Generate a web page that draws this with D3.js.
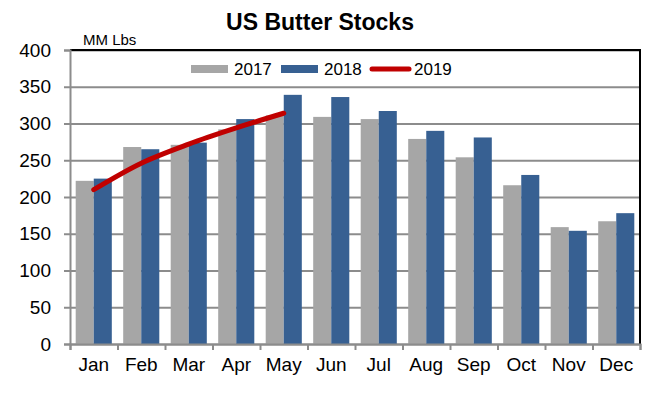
<!DOCTYPE html>
<html>
<head>
<meta charset="utf-8">
<script src="https://cdn.jsdelivr.net/npm/d3@7"></script>
<style>
  body { margin: 0; background: #fff; }
  svg text { font-family: "Liberation Sans", Arial, sans-serif; fill: #000; }
</style>
</head>
<body>
<svg width="658" height="396"></svg>
<script>
const months = ['Jan', 'Feb', 'Mar', 'Apr', 'May', 'Jun', 'Jul', 'Aug', 'Sep', 'Oct', 'Nov', 'Dec'];
const stocks2017 = [222, 268, 271, 292, 311, 309, 306, 279, 254, 216, 159, 167];
const stocks2018 = [225, 265, 274, 306, 339, 336, 317, 290, 281, 230, 154, 178];
const stocks2019 = [210, 246, 272, 294, 314];
const yTicks = [0, 50, 100, 150, 200, 250, 300, 350, 400];
const seriesNames = ['2017', '2018', '2019'];

const colors = { '2017': '#a6a6a6', '2018': '#376092', '2019': '#c00000' };
const margin = { top: 50, right: 18, bottom: 52, left: 70 };
const width = 658 - margin.left - margin.right;
const height = 396 - margin.top - margin.bottom;

const svg = d3.select('svg');
const g = svg.append('g')
  .attr('transform', `translate(${margin.left}, ${margin.top})`);

const x0 = d3.scaleBand()
  .domain(months)
  .range([0, width])
  .paddingInner(0.24)
  .paddingOuter(0.12);
const x1 = d3.scaleBand()
  .domain(['2017', '2018'])
  .range([0, x0.bandwidth()]);
const y = d3.scaleLinear().domain([0, 400]).range([height, 0]);
const xEdges = d3.scaleLinear().domain([0, months.length]).range([0, width]);

// gridlines
g.append('g')
  .attr('class', 'grid')
  .call(d3.axisLeft(y).tickValues(yTicks).tickSize(-width).tickFormat(''))
  .call(s => s.select('.domain').remove())
  .call(s => s.selectAll('line').attr('stroke', '#8c8c8c').attr('stroke-width', 2));

// bars
const rows = months.map((m, i) => ({ month: m, values: [
  { key: '2017', value: stocks2017[i] },
  { key: '2018', value: stocks2018[i] }
] }));

g.append('g')
  .selectAll('g')
  .data(rows)
  .enter()
  .append('g')
  .attr('transform', d => `translate(${x0(d.month)}, 0)`)
  .selectAll('rect')
  .data(d => d.values)
  .enter()
  .append('rect')
  .attr('x', d => x1(d.key))
  .attr('y', d => y(d.value))
  .attr('width', x1.bandwidth())
  .attr('height', d => height - y(d.value))
  .attr('fill', d => colors[d.key]);

// frame top / right
g.append('line')
  .attr('x1', 0).attr('x2', width)
  .attr('y1', y(400)).attr('y2', y(400))
  .attr('stroke', '#000').attr('stroke-width', 2);
g.append('line')
  .attr('x1', width).attr('x2', width)
  .attr('y1', y(400) - 1).attr('y2', height)
  .attr('stroke', '#000').attr('stroke-width', 2);

// y axis
g.append('g')
  .call(d3.axisLeft(y).tickValues(yTicks).tickSize(6).tickPadding(13))
  .call(s => s.select('.domain').attr('stroke', '#8c8c8c').attr('stroke-width', 2))
  .call(s => s.selectAll('line').attr('stroke', '#8c8c8c').attr('stroke-width', 2))
  .call(s => s.selectAll('text').attr('font-size', 19).attr('font-family', null));

// x axis: ticks at category edges, labels at centres
g.append('g')
  .attr('transform', `translate(0, ${height})`)
  .call(d3.axisBottom(xEdges).ticks(months.length).tickSize(6).tickFormat(''))
  .call(s => s.select('.domain').attr('stroke', '#8c8c8c').attr('stroke-width', 2))
  .call(s => s.selectAll('line').attr('stroke', '#8c8c8c').attr('stroke-width', 2));

g.append('g')
  .attr('transform', `translate(0, ${height})`)
  .call(d3.axisBottom(x0).tickSize(0).tickPadding(14))
  .call(s => s.select('.domain').remove())
  .call(s => s.selectAll('text').attr('font-size', 19).attr('font-family', null));

// 2019 line
const line = d3.line()
  .x((d, i) => x0(months[i]) + x0.bandwidth() / 2)
  .y(d => y(d))
  .curve(d3.curveMonotoneX);

g.append('path')
  .datum(stocks2019)
  .attr('d', line)
  .attr('fill', 'none')
  .attr('stroke', colors['2019'])
  .attr('stroke-width', 5)
  .attr('stroke-linecap', 'round');

// title and unit
svg.append('text')
  .attr('x', 320)
  .attr('y', 30)
  .attr('text-anchor', 'middle')
  .attr('font-size', 23)
  .attr('font-weight', 'bold')
  .text('US Butter Stocks');

svg.append('text')
  .attr('x', 83)
  .attr('y', 45)
  .attr('font-size', 15)
  .text('MM Lbs');

// legend
const legendX = [191, 281, 370];
const legend = svg.append('g')
  .selectAll('g')
  .data(seriesNames)
  .enter()
  .append('g')
  .attr('transform', (d, i) => `translate(${legendX[i]}, 69)`);

legend.filter(d => d !== '2019')
  .append('rect')
  .attr('x', 0).attr('y', -4)
  .attr('width', 37).attr('height', 8)
  .attr('fill', d => colors[d]);

legend.filter(d => d === '2019')
  .append('line')
  .attr('x1', 2).attr('x2', 39)
  .attr('y1', 0).attr('y2', 0)
  .attr('stroke', colors['2019'])
  .attr('stroke-width', 5)
  .attr('stroke-linecap', 'round');

legend.append('text')
  .attr('x', (d, i) => i === 2 ? 44 : (i === 0 ? 43 : 43))
  .attr('y', 6)
  .attr('font-size', 17)
  .text(d => d);
</script>
</body>
</html>
